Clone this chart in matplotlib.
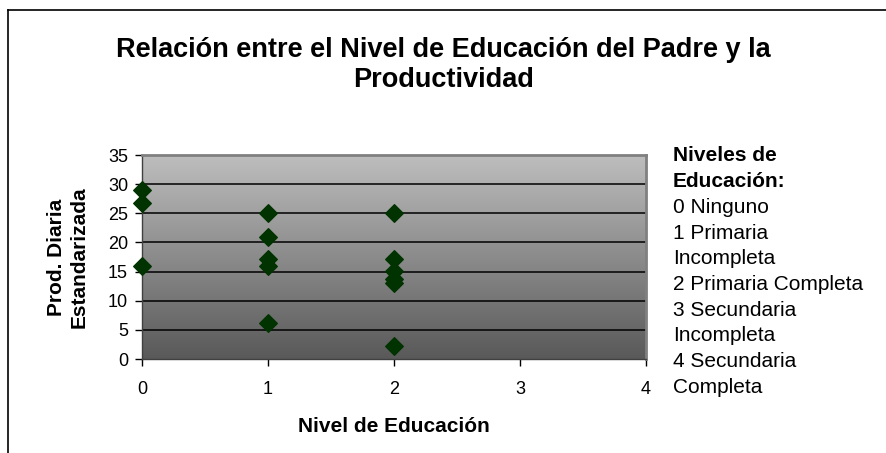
import numpy as np
import matplotlib
matplotlib.use("Agg")
import matplotlib.pyplot as plt
from matplotlib.lines import Line2D

plt.rcParams['font.family'] = ['Liberation Sans', 'DejaVu Sans']

# Data
nivel = [0, 0, 0, 1, 1, 1, 1, 1, 2, 2, 2, 2, 2, 2]
prod = [29.0, 26.7, 16.0, 25.0, 21.0, 17.2, 16.0, 6.1, 25.0, 17.2, 15.1, 13.7, 13.0, 2.3]
xticks = [0, 1, 2, 3, 4]
yticks = [0, 5, 10, 15, 20, 25, 30, 35]
title = "Relación entre el Nivel de Educación del Padre y la\nProductividad"
xlabel = "Nivel de Educación"
ylabel = "Prod. Diaria\nEstandarizada"
legend_title = ["Niveles de", "Educación:"]
legend_lines = ["0 Ninguno", "1 Primaria", "Incompleta", "2 Primaria Completa",
                "3 Secundaria", "Incompleta", "4 Secundaria", "Completa"]

W, H = 886, 453
fig = plt.figure(figsize=(W / 100, H / 100), dpi=100)
fig.patch.set_facecolor('white')

# outer chart frame
fig.add_artist(Line2D([8 / W, 8 / W], [0, 1 - 10 / H], transform=fig.transFigure, color='black', lw=1.2))
fig.add_artist(Line2D([8 / W, 1], [1 - 10 / H, 1 - 10 / H], transform=fig.transFigure, color='black', lw=1.2))

left, right, top, bottom = 142, 646, 155, 359
ax = fig.add_axes([left / W, 1 - bottom / H, (right - left) / W, (bottom - top) / H])

# gradient background
grad = np.linspace(0, 1, 256).reshape(-1, 1)
cmap = matplotlib.colors.LinearSegmentedColormap.from_list('g', ['#bebebe', '#595959'])
ax.imshow(grad, extent=[0, 1, 0, 1], transform=ax.transAxes, aspect='auto', cmap=cmap,
          origin='upper', zorder=0)

ax.set_xlim(0, 4)
ax.set_ylim(0, 35)
ax.set_xticks(xticks)
ax.set_yticks(yticks)
ax.tick_params(axis='both', direction='out', length=5, width=1, colors='black', labelsize=13)
ax.tick_params(axis='y', pad=5)
ax.tick_params(axis='x', pad=11)
for y in yticks[1:-1]:
    ax.axhline(y, color='black', lw=1.1, zorder=1)

ax.scatter(nivel, prod, marker='D', s=80, color='#003300', zorder=3, clip_on=False)

for s in ['top', 'right']:
    ax.spines[s].set_color('#808080')
    ax.spines[s].set_linewidth(2)
for s in ['left', 'bottom']:
    ax.spines[s].set_color('#404040')
    ax.spines[s].set_linewidth(1)

fig.text(443.5 / W, 1 - 87 / H, title, ha='center', va='baseline', fontsize=19.5,
         fontweight='bold', linespacing=1.22)
fig.text(394 / W, 1 - 432 / H, xlabel, ha='center', va='baseline', fontsize=15, fontweight='bold')
fig.text(68 / W, 1 - 257 / H, ylabel, ha='center', va='center', fontsize=15,
         fontweight='bold', rotation=90, linespacing=1.25)

for i, t in enumerate(legend_title + legend_lines):
    fig.text(673 / W, 1 - (161.5 + 25.7 * i) / H, t, ha='left', va='baseline', fontsize=15,
             fontweight='bold' if i < 2 else 'normal')

fig.savefig('out.png', dpi=100)
